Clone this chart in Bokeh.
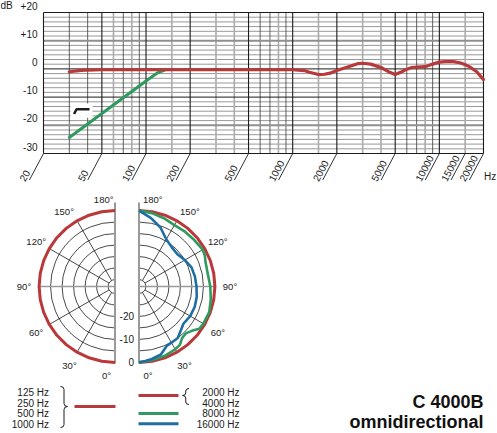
import numpy as np
from bokeh.plotting import figure
from bokeh.models import Range1d
from bokeh.layouts import column
from bokeh.embed import file_html
from bokeh.resources import INLINE
from bokeh.core.properties import value

FONT = value("Liberation Sans")
INK = "#1c1c1c"
RED = "#b9383a"
GREEN = "#2e9a5e"
BLUE = "#1f6ea3"
GRAY = "#9a9a9a"

# ---------------- data: frequency response ----------------
resp_freq = [30, 35, 40, 50, 100, 200, 500, 1000, 1200, 1300, 1500, 1650, 1800, 2000,
             2400, 2800, 3000, 3400, 4000, 4500, 5000, 5500, 6000, 6500, 7000, 8000,
             9000, 10000, 11000, 12500, 14000, 15000, 16000, 18000, 20000]
resp_db = [-1.0, -0.6, -0.4, -0.3, -0.3, -0.3, -0.3, -0.3, -0.6, -1.2, -2.0, -1.9, -1.5, -0.6,
           0.8, 1.9, 2.0, 1.7, 0.5, -1.0, -2.0, -1.1, -0.1, 0.5, 0.6, 0.8,
           1.7, 2.4, 2.6, 2.6, 2.1, 1.5, 0.8, -1.0, -3.8]
lowcut_freq = [30, 50, 100, 120, 135]
lowcut_db = [-24.3, -15.8, -4.3, -1.4, -0.3]

tick_freq = [20, 50, 100, 200, 500, 1000, 2000, 5000, 10000, 15000, 20000]
tick_text = ["20", "50", "100", "200", "500", "1000", "2000", "5000", "10000", "15000", "20000"]
db_ticks = [20, 10, 0, -10, -20, -30]
db_text = ["+20", "+10", "0", "-10", "-20", "-30"]

major_freq = [20, 50, 100, 200, 500, 1000, 2000, 5000, 10000, 20000]
minor_dark_freq = [30, 40, 70, 90, 600, 700, 900, 6000, 7000, 9000]
minor_gray_freq = [60, 80, 150, 300, 400, 800, 1500, 3000, 4000, 8000, 15000]

# ---------------- data: polar ----------------
red_angle = [0, 10, 20, 30, 40, 50, 60, 70, 80, 90, 100, 110, 120, 130, 140, 150, 160, 170, 180]
low_db = [0, 0, 0, 0, 0, 0, 0, 0, 0, 0, 0, 0, 0, 0, 0, 0, 0, 0, 0]        # 125-1000 Hz
mid_db = [0, 0, 0, 0, 0, 0, 0, 0, 0, 0, 0, 0, 0, 0, 0, 0, 0, 0, 0]        # 2000/4000 Hz
g_angle = [0, 10, 20, 30, 35, 40, 45, 50, 55, 60, 70, 80, 90, 100, 110, 115, 120,
           130, 140, 150, 160, 170, 180]
g_db = [0, -0.5, -0.8, -1.5, -2.0, -3.8, -4.2, -3.0, -1.0, -0.7, -0.5, -1.3, -2.0, -2.6,
        -2.2, -1.4, -1.0, -1.6, -1.9, -2.2, -1.4, -0.6, 0]                  # 8000 Hz
b_angle = [0, 5, 10, 18, 25, 30, 37, 43, 50, 60, 70, 80, 90, 100, 110, 120, 130,
           140, 150, 160, 170, 180]
b_db = [0, -0.5, -1.0, -2.0, -4.5, -4.8, -5.0, -6.5, -7.8, -7.3, -7.2, -7.5, -8.0, -8.3,
        -8.7, -10.0, -11.2, -10.8, -9.3, -5.7, -2.8, 0]                     # 16000 Hz
ring_db = [-30, -25, -20, -15, -10, -5]
ring_lbl_db = [-20, -10, 0]
spoke_deg = [30, 60, 120, 150]
ang_lbl = ["30°", "60°", "90°", "120°", "150°"]
ang_lbl_pos = [30, 60, 90, 120, 146]

left_legend = ["125 Hz", "250 Hz", "500 Hz", "1000 Hz"]
right_legend = ["2000 Hz", "4000 Hz", "8000 Hz", "16000 Hz"]

# ================= frequency response figure =================
W = 497
H1 = 193
PX_PER_DEC = 440 / 3
F0_PX = 43.0
DB_PX = 141 / 50
TOP_PX = 12.0
f_lo = 20 * 10 ** (-F0_PX / PX_PER_DEC)
f_hi = 20 * 10 ** ((W - F0_PX) / PX_PER_DEC)
db_hi = 20 + TOP_PX / DB_PX
db_lo = db_hi - H1 / DB_PX

p1 = figure(width=W, height=H1, x_axis_type="log",
            x_range=Range1d(f_lo, f_hi), y_range=Range1d(db_lo, db_hi),
            output_backend="svg", toolbar_location=None, min_border=0,
            x_axis_location=None, y_axis_location=None)
p1.outline_line_color = None
p1.grid.visible = False

minor_levels = np.concatenate([d + np.arange(1, 6) * 10 / 6 for d in range(-30, 20, 10)])
p1.segment(x0=20, y0=minor_levels, x1=20000, y1=minor_levels, line_color="#7d7d7d", line_width=0.8)
p1.segment(x0=minor_gray_freq, y0=-30, x1=minor_gray_freq, y1=20, line_color="#ababab", line_width=1.6)
p1.segment(x0=minor_dark_freq, y0=-30, x1=minor_dark_freq, y1=20, line_color="#3a3a3a", line_width=0.8)
p1.segment(x0=20, y0=[10, -20], x1=20000, y1=[10, -20], line_color="#8f8f8f", line_width=2)
p1.segment(x0=20, y0=[20, 0, -10, -30], x1=20000, y1=[20, 0, -10, -30], line_color=INK, line_width=1)
p1.segment(x0=major_freq, y0=-30, x1=major_freq, y1=20, line_color=INK, line_width=1.1)

p1.line(lowcut_freq, lowcut_db, line_color=GREEN, line_width=3, line_cap="round")
p1.line(resp_freq, resp_db, line_color=RED, line_width=3.2, line_cap="round", line_join="round")

# low-cut switch icon
p1.quad(left=30.6, right=43.2, bottom=-17.3, top=-12.3, fill_color="white", line_color=None)
p1.line([32.3, 33.6, 41.2], [-16.0, -14.3, -14.3], line_color=INK, line_width=2.5)

# dB labels
p1.text(x=20, y=db_ticks, text=db_text, x_offset=-6, y_offset=-7, text_align="right",
        text_baseline="middle", text_font=FONT, text_font_size="10px", text_color=INK)
p1.text(x=[20], y=[20], text=["dB"], x_offset=-43, y_offset=-7.5, text_align="left",
        text_baseline="middle", text_font=FONT, text_font_size="10px", text_color=INK)

# slanted frequency ticks and labels
tick_arr = np.array(tick_freq, dtype=float)
slant = np.deg2rad(62)
L = 30
dxp, dyp = -L * np.cos(slant), L * np.sin(slant)
p1.segment(x0=tick_arr, y0=-30, x1=tick_arr * 10 ** (dxp / PX_PER_DEC), y1=-30 - dyp / DB_PX,
           line_color=INK, line_width=0.9)
ox = -34 * np.cos(slant) - 6.5 * np.sin(slant)
oy = 34 * np.sin(slant) - 6.5 * np.cos(slant)
p1.text(x=tick_arr, y=-30, text=tick_text, x_offset=ox, y_offset=oy, angle=slant,
        text_align="left", text_baseline="middle", text_font=FONT, text_font_size="10px",
        text_color=INK)
p1.text(x=[20000], y=[-30 - 23 / DB_PX], text=["Hz"], x_offset=0.5, text_align="left",
        text_baseline="middle", text_font=FONT, text_font_size="10px", text_color=INK)

# ================= polar + legend figure =================
H2 = 240
S = 2.3          # px per dB
R0 = 33          # 0 dB ring radius in dB units
CX_PX = 114.5
CY_PX = 286 - H1
x_lo = -CX_PX / S
x_hi = x_lo + W / S
y_hi = CY_PX / S
y_lo = y_hi - H2 / S
XC = 24 / S


def PX(px):
    return (px - 114.5) / S


def PY(py):
    return (286 - py) / S


p2 = figure(width=W, height=H2, x_range=Range1d(x_lo, x_hi), y_range=Range1d(y_lo, y_hi),
            output_backend="svg", toolbar_location=None, min_border=0,
            x_axis_location=None, y_axis_location=None)
p2.outline_line_color = None
p2.grid.visible = False


def pol(ang, db, side, xc):
    th = np.deg2rad(np.asarray(ang, dtype=float))
    r = np.asarray(db, dtype=float) + R0
    return xc + side * r * np.sin(th), -r * np.cos(th)


for side, xc, a0, a1 in [(-1, 0.0, np.pi / 2, 3 * np.pi / 2), (1, XC, -np.pi / 2, np.pi / 2)]:
    p2.arc(x=xc, y=0, radius=[d + R0 for d in ring_db], start_angle=a0, end_angle=a1,
           direction="anticlock", line_color=INK, line_width=0.8)
    th = np.deg2rad(spoke_deg)
    r_in, r_out = R0 - 30, R0
    p2.segment(x0=xc + side * r_in * np.sin(th), y0=-r_in * np.cos(th),
               x1=xc + side * r_out * np.sin(th), y1=-r_out * np.cos(th),
               line_color=INK, line_width=0.8)
    p2.segment(x0=xc, y0=0, x1=xc + side * R0, y1=0, line_color=GRAY, line_width=1.6)
    tp = np.deg2rad(ang_lbl_pos)
    rl = 91 / S
    p2.text(x=xc + side * rl * np.sin(tp), y=-rl * np.cos(tp), text=ang_lbl,
            text_align="center", text_baseline="middle", text_font=FONT,
            text_font_size="9.5px", text_color=INK)

p2.segment(x0=[0, XC], y0=PY(202), x1=[0, XC], y1=PY(363), line_color=GRAY, line_width=2)

p2.text(x=[PX(113), PX(110.5)], y=[PY(198.5), PY(375)], text=["180°", "0°"],
        text_align="right", text_baseline="middle", text_font=FONT, text_font_size="9.5px",
        text_color=INK)
p2.text(x=[PX(142.5), PX(143)], y=[PY(198.5), PY(375)], text=["180°", "0°"],
        text_align="left", text_baseline="middle", text_font=FONT, text_font_size="9.5px",
        text_color=INK)
p2.text(x=PX(133.5), y=[-(d + R0) for d in ring_lbl_db], text=[str(d) for d in ring_lbl_db],
        text_align="right", text_baseline="middle", text_font=FONT, text_font_size="10px",
        text_color=INK)

# polar curves
lx, ly = pol(red_angle, low_db, -1, 0.0)
p2.line(lx, ly, line_color=RED, line_width=3, line_join="round")
rx, ry = pol(red_angle, mid_db, 1, XC)
p2.line(rx, ry, line_color=RED, line_width=3, line_join="round")
gx, gy = pol(g_angle, g_db, 1, XC)
p2.line(gx, gy, line_color=GREEN, line_width=2.6, line_join="round")
bx, by = pol(b_angle, b_db, 1, XC)
p2.line(bx, by, line_color=BLUE, line_width=2.6, line_join="round")

# legend
row_mid = [392.0, 402.5, 413.0, 423.5]
p2.text(x=PX(48.5), y=[PY(v) for v in row_mid], text=left_legend, text_align="right",
        text_baseline="middle", text_font=FONT, text_font_size="10px", text_color=INK)
p2.text(x=PX(239), y=[PY(v) for v in row_mid], text=right_legend, text_align="right",
        text_baseline="middle", text_font=FONT, text_font_size="10px", text_color=INK)
p2.segment(x0=PX(74), y0=PY(406), x1=PX(115), y1=PY(406), line_color=RED, line_width=3)
p2.segment(x0=PX(138), y0=[PY(395), PY(413), PY(423.3)], x1=PX(178),
           y1=[PY(395), PY(413), PY(423.3)], line_color=[RED, GREEN, BLUE], line_width=3)


def brace(x_end, x_tip, y_top, y_bot, y_mid, r):
    xm = (x_end + x_tip) / 2
    p2.quadratic(x0=[x_end, xm, x_tip, xm], y0=[y_top, y_mid + r, y_mid, y_bot + r],
                 x1=[xm, x_tip, xm, x_end], y1=[y_top - r, y_mid, y_mid - r, y_bot],
                 cx=[xm, xm, xm, xm], cy=[y_top, y_mid, y_mid, y_bot],
                 line_color=INK, line_width=1)
    p2.segment(x0=[xm, xm], y0=[y_top - r, y_mid - r], x1=[xm, xm], y1=[y_mid + r, y_bot + r],
               line_color=INK, line_width=1)


brace(PX(60), PX(67), PY(386), PY(427), PY(406), 3 / S)
brace(PX(188.5), PX(182), PY(388), PY(404), PY(395), 2.5 / S)

p2.text(x=PX(483), y=[PY(401.5), PY(421)], text=["C 4000B", "omnidirectional"],
        text_align="right", text_baseline="middle", text_font=FONT,
        text_font_size="18px", text_font_style="bold", text_color="#111111")

lay = column(p1, p2, spacing=0)
open("out.html", "w").write(file_html(lay, INLINE))
